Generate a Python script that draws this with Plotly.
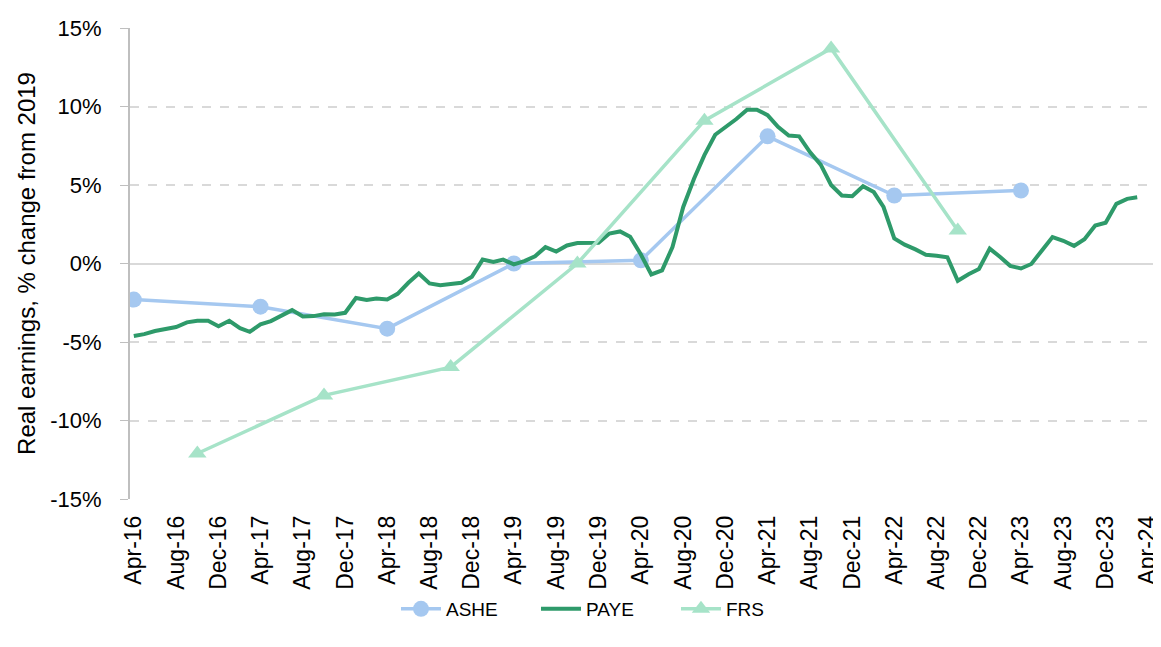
import plotly.graph_objects as go
import pandas as pd

# ---- data ----
paye_start = "2016-04-01"
paye_values = [
    -4.62, -4.50, -4.30, -4.15, -4.05, -3.75, -3.65, -3.65, -4.00, -3.65, -4.12, -4.35,
    -3.88, -3.67, -3.30, -2.97, -3.38, -3.35, -3.23, -3.25, -3.14, -2.20, -2.33, -2.23,
    -2.29, -1.93, -1.23, -0.64, -1.27, -1.38, -1.30, -1.23, -0.85, 0.25, 0.10, 0.25,
    -0.06, 0.15, 0.46, 1.04, 0.76, 1.15, 1.30, 1.34, 1.32, 1.91, 2.04, 1.70,
    0.57, -0.70, -0.44, 1.05, 3.60, 5.40, 6.90, 8.20, 8.70, 9.20, 9.80, 9.80,
    9.45, 8.70, 8.15, 8.10, 7.10, 6.30, 5.00, 4.33, 4.28, 4.92, 4.55, 3.60,
    1.60, 1.20, 0.90, 0.56, 0.50, 0.40, -1.10, -0.68, -0.35, 0.95, 0.40, -0.15,
    -0.32, -0.03, 0.85, 1.68, 1.45, 1.12, 1.55, 2.42, 2.60, 3.80, 4.12, 4.22,
]
paye_dates = pd.date_range(paye_start, periods=len(paye_values), freq="MS")

ashe_dates = ["2016-04-01", "2017-04-01", "2018-04-01", "2019-04-01",
              "2020-04-01", "2021-04-01", "2022-04-01", "2023-04-01"]
ashe_values = [-2.3, -2.75, -4.15, 0.0, 0.2, 8.1, 4.33, 4.65]

frs_dates = ["2016-10-01", "2017-10-01", "2018-10-01", "2019-10-01",
             "2020-10-01", "2021-10-01", "2022-10-01"]
frs_values = [-12.1, -8.4, -6.6, 0.0, 9.1, 13.7, 2.1]

y_ticks = [-15, -10, -5, 0, 5, 10, 15]
y_ticktext = ["-15%", "-10%", "-5%", "0%", "5%", "10%", "15%"]
x_ticks = pd.date_range("2016-04-01", "2024-04-01", freq="4MS")

ASHE_C = "#A5C8F0"
PAYE_C = "#2E9A6A"
FRS_C = "#A6E3C8"

fig = go.Figure()
fig.add_trace(go.Scatter(
    x=ashe_dates, y=ashe_values, name="ASHE", mode="lines+markers",
    line=dict(color=ASHE_C, width=3.5),
    marker=dict(symbol="circle", size=16, color=ASHE_C),
))
fig.add_trace(go.Scatter(
    x=paye_dates, y=paye_values, name="PAYE", mode="lines",
    line=dict(color=PAYE_C, width=4),
))
fig.add_trace(go.Scatter(
    x=frs_dates, y=frs_values, name="FRS", mode="lines+markers",
    line=dict(color=FRS_C, width=3.5),
    marker=dict(symbol="triangle-up", size=16, color=FRS_C),
))

fig.update_layout(
    width=1161, height=647,
    margin=dict(l=122, r=12, t=20, b=156),
    paper_bgcolor="white", plot_bgcolor="white",
    font=dict(family="Liberation Sans, Arial, sans-serif", size=19, color="black"),
    showlegend=True,
    legend=dict(orientation="h", x=0.259, xanchor="left", y=-0.2335, yanchor="middle",
                font=dict(size=19), itemwidth=40, entrywidth=85,
                traceorder="normal"),
)
fig.update_xaxes(
    type="date",
    range=["2016-03-21", "2024-04-27"],
    tickvals=list(x_ticks), tickformat="%b-%y", tickangle=-90,
    tickfont=dict(size=23),
    showgrid=False, showline=False, zeroline=False,
    ticks="", ticklabelstandoff=11, ticklabeloverflow="allow",
    automargin=False,
)
fig.update_yaxes(
    range=[-15, 15],
    tickvals=y_ticks, ticktext=y_ticktext,
    tickfont=dict(size=22),
    title=dict(text="Real earnings, % change from 2019", font=dict(size=24), standoff=8),
    showgrid=True, gridcolor="#D9D9D9", griddash="dash", gridwidth=1.5,
    zeroline=True, zerolinecolor="#D9D9D9", zerolinewidth=2,
    showline=True, linecolor="#BFBFBF", linewidth=2,
    ticks="outside", ticklen=8, tickcolor="#BFBFBF", ticklabelstandoff=14,
    ticklabeloverflow="allow",
    automargin=False,
)

fig.write_html("out.html")
